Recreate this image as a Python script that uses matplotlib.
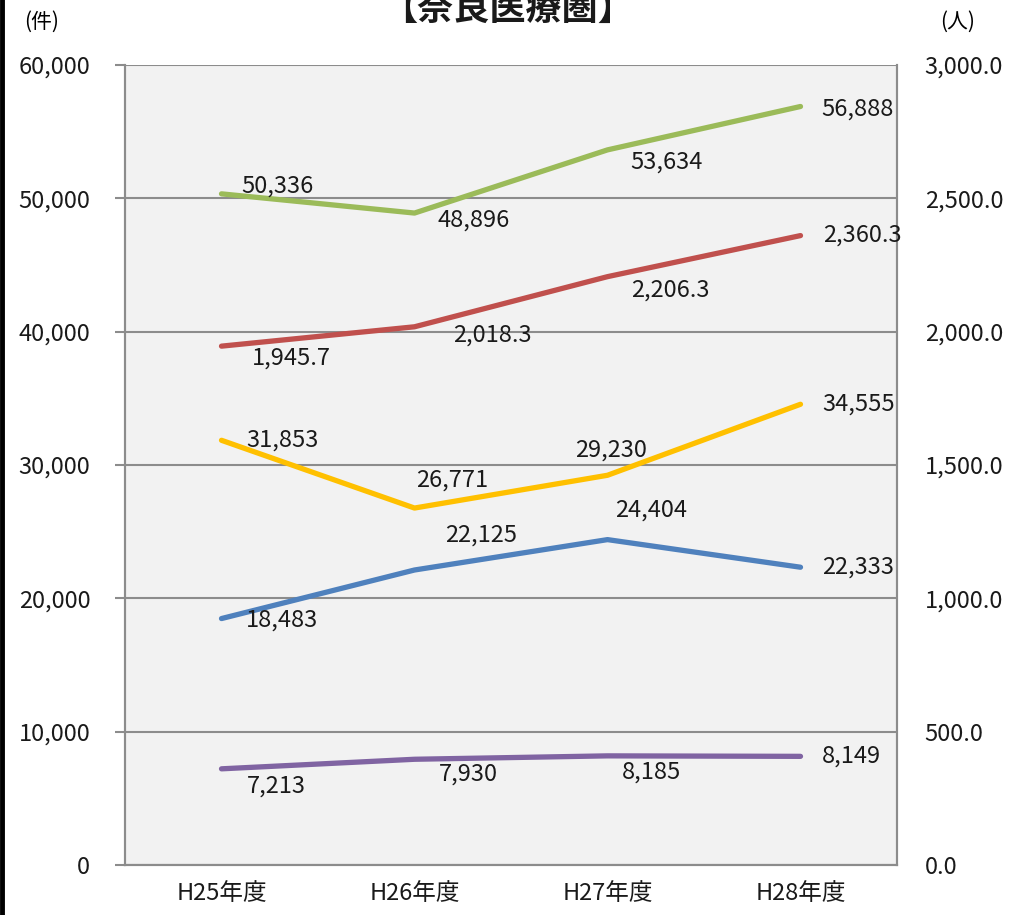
import matplotlib.pyplot as plt
from matplotlib.lines import Line2D
from matplotlib.ticker import FuncFormatter
import numpy as np

plt.rcParams['font.family'] = ['Noto Sans CJK JP', 'DejaVu Sans']

categories = ['H25年度', 'H26年度', 'H27年度', 'H28年度']
green_vals = [50336, 48896, 53634, 56888]
red_vals = [1945.7, 2018.3, 2206.3, 2360.3]   # right axis (人)
yellow_vals = [31853, 26771, 29230, 34555]
blue_vals = [18483, 22125, 24404, 22333]
purple_vals = [7213, 7930, 8185, 8149]

# label offsets in pixels (dx, dy), dy positive = down
green_off = [(56, -8), (59, 7), (59, 12), (57, 3)]
red_off = [(70, 12), (78, 8), (63, 13), (62, 0)]
yellow_off = [(61, 0), (38, -28), (4, -25), (58, 0)]
blue_off = [(61, 2), (67, -35), (44, -30), (58, 0)]
purple_off = [(55, 17), (54, 15), (44, 16), (51, 0)]

W, H = 1013, 915
fig = plt.figure(figsize=(W / 100, H / 100), dpi=100)
ax = fig.add_axes([125 / W, 50 / H, 772 / W, 800 / H])
ax2 = ax.twinx()

ax.set_facecolor('#f2f2f2')
x = np.arange(len(categories)) + 0.5
ax.set_xlim(0, 4)
ax.set_ylim(0, 60000)
ax2.set_ylim(0, 3000)
ax.set_yticks(np.arange(0, 60001, 10000))
ax2.set_yticks(np.arange(0, 3001, 500))
ax.yaxis.set_major_formatter(FuncFormatter(lambda v, p: f'{v:,.0f}'))
ax2.yaxis.set_major_formatter(FuncFormatter(lambda v, p: f'{v:,.1f}'))
ax.grid(axis='y', color='#8c8c8c', linewidth=1.5)
ax.set_axisbelow(True)
ax.set_xticks(x)
ax.set_xticklabels(categories)

for a in (ax, ax2):
    for s in a.spines.values():
        s.set_color('#8c8c8c')
        s.set_linewidth(1.5)
    a.spines['top'].set_visible(False)
ax.tick_params(axis='y', length=7, width=1.5, color='#8c8c8c', pad=18,
               labelsize=17, labelcolor='#1a1a1a')
ax.tick_params(axis='x', length=0, pad=12, labelsize=17, labelcolor='#1a1a1a')
ax2.tick_params(axis='y', length=0, pad=20, labelsize=17, labelcolor='#1a1a1a')


def draw(a, vals, color, offs, fmt):
    a.plot(x, vals, color=color, linewidth=3.8, solid_capstyle='round', zorder=3)
    for xi, v, (dx, dy) in zip(x, vals, offs):
        a.annotate(fmt.format(v), (xi, v), xytext=(dx * 0.72, -dy * 0.72),
                   textcoords='offset points', ha='center', va='center',
                   fontsize=17, color='#1a1a1a', zorder=4)


draw(ax, green_vals, '#9bbb59', green_off, '{:,.0f}')
draw(ax, yellow_vals, '#ffc000', yellow_off, '{:,.0f}')
draw(ax, blue_vals, '#4f81bd', blue_off, '{:,.0f}')
draw(ax, purple_vals, '#8064a2', purple_off, '{:,.0f}')
draw(ax2, red_vals, '#c0504d', red_off, '{:,.1f}')

# title is clipped by the top edge, as in the source image
fig.text(508 / W, 1 - 9 / H, '【奈良医療圏】', ha='center', va='center',
         fontsize=26, fontweight='bold', color='#1a1a1a')
fig.text(42 / W, 1 - 22 / H, '(件)', ha='center', va='center', fontsize=15)
fig.text(958 / W, 1 - 22 / H, '(人)', ha='center', va='center', fontsize=15)

fig.add_artist(Line2D([2 / W, 2 / W], [0, 1], color='black', linewidth=3.5,
                      transform=fig.transFigure))

fig.savefig('out.png', dpi=100)
